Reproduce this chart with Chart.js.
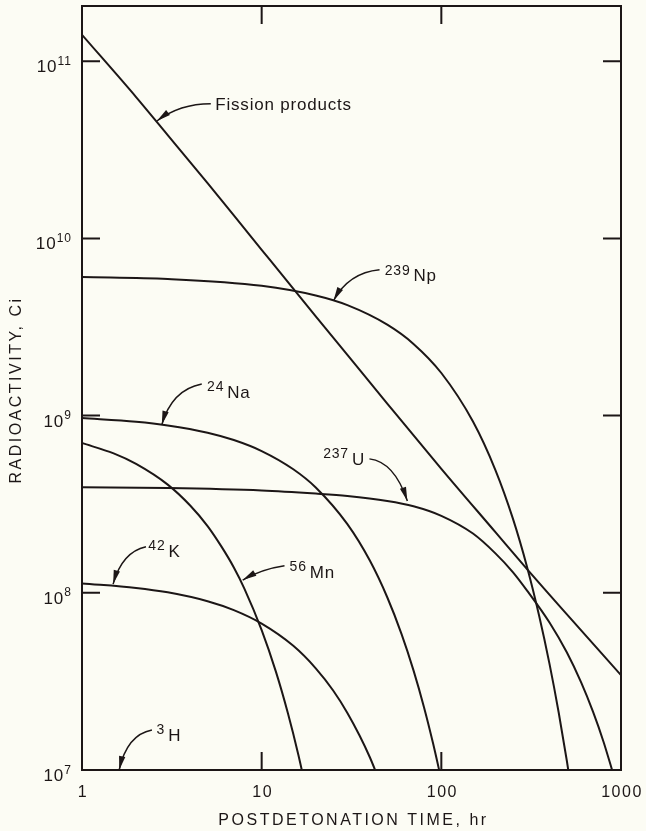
<!DOCTYPE html>
<html>
<head>
<meta charset="utf-8">
<script src="https://cdn.jsdelivr.net/npm/chart.js@4.4.0/dist/chart.umd.min.js"></script>
<style>
  html, body { margin: 0; padding: 0; background: #fcfcf4; }
  #wrap { width: 646px; height: 831px; }
</style>
</head>
<body>
<div id="wrap"><canvas id="plot"></canvas></div>
<script>
// axis ticks
const xTickValues = [1, 10, 100, 1000];
const xTickLabels = ['1', '10', '100', '1000'];
const yTickValues = [1e7, 1e8, 1e9, 1e10, 1e11];
const yTickExponents = ['7', '8', '9', '10', '11'];

// curves (hours, Ci)
const fpTime = [1, 2, 3, 5, 7, 10, 20, 30, 50, 100, 200, 300, 500, 1000];
const fpCi = [1.41e11, 6.28e10, 3.83e10, 2.05e10, 1.35e10, 8.63e9, 3.63e9, 2.20e9, 1.17e9, 5.01e8, 2.20e8, 1.36e8, 7.55e7, 3.43e7];

const npTime = [1, 3, 10, 20, 30, 50, 70, 100, 150, 200, 250, 300, 350, 400, 450, 500, 530];
const npCi = [6.05e9, 5.90e9, 5.40e9, 4.76e9, 4.20e9, 3.26e9, 2.54e9, 1.74e9, 9.26e8, 4.93e8, 2.63e8, 1.40e8, 7.45e7, 3.97e7, 2.11e7, 1.12e7, 7.6e6];

const naTime = [1, 2, 3, 5, 7, 10, 15, 20, 30, 40, 50, 60, 70, 80, 90, 100];
const naCi = [9.68e8, 9.23e8, 8.80e8, 8.01e8, 7.28e8, 6.31e8, 4.98e8, 3.93e8, 2.44e8, 1.52e8, 9.44e7, 5.87e7, 3.65e7, 2.27e7, 1.41e7, 8.8e6];

const uTime = [1, 3, 10, 20, 30, 50, 70, 100, 150, 200, 250, 300, 400, 500, 600, 700, 800, 900];
const uCi = [3.94e8, 3.90e8, 3.78e8, 3.63e8, 3.52e8, 3.30e8, 3.08e8, 2.72e8, 2.16e8, 1.67e8, 1.31e8, 1.03e8, 6.8e7, 4.6e7, 3.12e7, 2.12e7, 1.44e7, 9.7e6];

const mnTime = [1, 1.5, 2, 3, 4, 5, 6, 7, 8, 10, 12, 14, 16, 18];
const mnCi = [7.0e8, 6.12e8, 5.34e8, 4.08e8, 3.11e8, 2.38e8, 1.81e8, 1.39e8, 1.06e8, 6.16e7, 3.59e7, 2.09e7, 1.22e7, 7.1e6];

const kTime = [1, 2, 3, 5, 7, 10, 15, 20, 25, 30, 35, 40, 45];
const kCi = [1.13e8, 1.066e8, 1.006e8, 8.96e7, 7.98e7, 6.70e7, 5.02e7, 3.75e7, 2.81e7, 2.10e7, 1.57e7, 1.18e7, 8.8e6];

const INK = '#1c1616';
const FONT = '"Liberation Sans", Arial, Helvetica, sans-serif';

// curve labels, placed in data coordinates (hours, Ci)
const notes = [
  { sup: '',    text: 'Fission products', at: [5.52, 5.28e10], from: [5.21, 5.76e10], bend: [3.50, 5.76e10], tip: [2.61, 4.6e10] },
  { sup: '239', text: 'Np', at: [48.4, 5.72e9],  from: [45.3, 6.65e9], bend: [30.5, 6.4e9],  tip: [25.1, 4.45e9] },
  { sup: '24',  text: 'Na', at: [4.97, 1.256e9], from: [4.64, 1.51e9], bend: [3.16, 1.40e9], tip: [2.78, 8.87e8] },
  { sup: '237', text: 'U',  at: [22.0, 5.27e8],  from: [39.8, 5.70e8], bend: [54.8, 5.48e8], tip: [64.7, 3.30e8] },
  { sup: '42',  text: 'K',  at: [2.34, 1.60e8],  from: [2.27, 1.82e8], bend: [1.67, 1.70e8], tip: [1.49, 1.12e8] },
  { sup: '56',  text: 'Mn', at: [14.3, 1.21e8],  from: [13.4, 1.42e8], bend: [10.0, 1.36e8], tip: [7.84, 1.18e8] },
  { sup: '3',   text: 'H',  at: [2.60, 1.464e7], from: [2.45, 1.68e7], bend: [1.78, 1.58e7], tip: [1.61, 1.0e7] }
];

function series(times, values) {
  return times.map((t, i) => ({ x: t, y: values[i] }));
}

const dataframe = {
  datasets: [
    { label: 'Fission products', data: series(fpTime, fpCi) },
    { label: '239Np', data: series(npTime, npCi) },
    { label: '24Na', data: series(naTime, naCi) },
    { label: '237U', data: series(uTime, uCi) },
    { label: '56Mn', data: series(mnTime, mnCi) },
    { label: '42K', data: series(kTime, kCi) }
  ]
};

const framePlugin = {
  id: 'frame',
  afterDraw(chart) {
    const { ctx, chartArea: a, scales: { x, y } } = chart;
    const TICK = 18;
    ctx.save();
    ctx.strokeStyle = INK;
    ctx.fillStyle = INK;
    ctx.lineWidth = 2;
    ctx.strokeRect(a.left, a.top, a.right - a.left, a.bottom - a.top);

    // inward tick marks
    ctx.beginPath();
    yTickValues.slice(1).forEach(v => {
      const py = y.getPixelForValue(v);
      ctx.moveTo(a.left, py); ctx.lineTo(a.left + TICK, py);
      ctx.moveTo(a.right, py); ctx.lineTo(a.right - TICK, py);
    });
    xTickValues.slice(1, -1).forEach(v => {
      const px = x.getPixelForValue(v);
      ctx.moveTo(px, a.bottom); ctx.lineTo(px, a.bottom - TICK);
      ctx.moveTo(px, a.top); ctx.lineTo(px, a.top + TICK);
    });
    ctx.stroke();

    // x tick labels
    ctx.letterSpacing = '1.5px';
    ctx.font = '16px ' + FONT;
    ctx.textAlign = 'center';
    ctx.textBaseline = 'alphabetic';
    xTickValues.forEach((v, i) => {
      ctx.fillText(xTickLabels[i], x.getPixelForValue(v) + 1, a.bottom + 27);
    });

    // y tick labels: 10 with superscript exponent
    ctx.letterSpacing = '1px';
    ctx.textAlign = 'left';
    yTickValues.forEach((v, i) => {
      const py = y.getPixelForValue(v);
      ctx.font = '12px ' + FONT;
      const supW = ctx.measureText(yTickExponents[i]).width;
      ctx.font = '17px ' + FONT;
      const baseW = ctx.measureText('10').width;
      const right = 72;
      ctx.fillText('10', right - supW - baseW, py + 11);
      ctx.font = '12px ' + FONT;
      ctx.fillText(yTickExponents[i], right - supW, py + 3.5);
    });

    // axis titles
    ctx.letterSpacing = '2.5px';
    ctx.font = '16px ' + FONT;
    ctx.textAlign = 'center';
    ctx.fillText('POSTDETONATION TIME, hr', (a.left + a.right) / 2 + 2, a.bottom + 55);
    ctx.save();
    ctx.translate(17, (a.top + a.bottom) / 2 + 2);
    ctx.rotate(-Math.PI / 2);
    ctx.textBaseline = 'middle';
    ctx.fillText('RADIOACTIVITY, Ci', 0, 0);
    ctx.restore();

    // curve labels with arrows
    const P = p => [x.getPixelForValue(p[0]), y.getPixelForValue(p[1])];
    notes.forEach(n => {
      const [sx, sy] = P(n.from);
      const [cx, cy] = P(n.bend);
      const [tx, ty] = P(n.tip);
      ctx.lineWidth = 1.5;
      ctx.beginPath();
      ctx.moveTo(sx, sy);
      ctx.quadraticCurveTo(cx, cy, tx, ty);
      ctx.stroke();
      let dx = tx - cx, dy = ty - cy;
      const len = Math.hypot(dx, dy) || 1;
      dx /= len; dy /= len;
      const L = 14, W = 3.2;
      ctx.beginPath();
      ctx.moveTo(tx, ty);
      ctx.lineTo(tx - dx * L - dy * W, ty - dy * L + dx * W);
      ctx.lineTo(tx - dx * L + dy * W, ty - dy * L - dx * W);
      ctx.closePath();
      ctx.fill();

      const [ax, ay] = P(n.at);
      let px = ax;
      ctx.textAlign = 'left';
      ctx.textBaseline = 'alphabetic';
      ctx.letterSpacing = '0.8px';
      if (n.sup) {
        ctx.font = '14px ' + FONT;
        ctx.fillText(n.sup, px, ay - 6.7);
        px += ctx.measureText(n.sup).width + 3;
      }
      ctx.font = '17px ' + FONT;
      ctx.fillText(n.text, px, ay);
    });
    ctx.restore();
  }
};

const config = {
  type: 'line',
  data: dataframe,
  options: {
    responsive: true,
    maintainAspectRatio: false,
    animation: false,
    layout: { padding: { left: 82, right: 25, top: 6, bottom: 61 } },
    elements: {
      point: { radius: 0 },
      line: { borderColor: INK, borderWidth: 2, cubicInterpolationMode: 'monotone', fill: false }
    },
    plugins: {
      legend: { display: false },
      tooltip: { enabled: false }
    },
    scales: {
      x: { type: 'logarithmic', min: 1, max: 1000, display: false },
      y: { type: 'logarithmic', min: 1e7, max: 2.05e11, display: false }
    }
  },
  plugins: [framePlugin]
};

const chart = new Chart(document.getElementById('plot'), config);
</script>
</body>
</html>
